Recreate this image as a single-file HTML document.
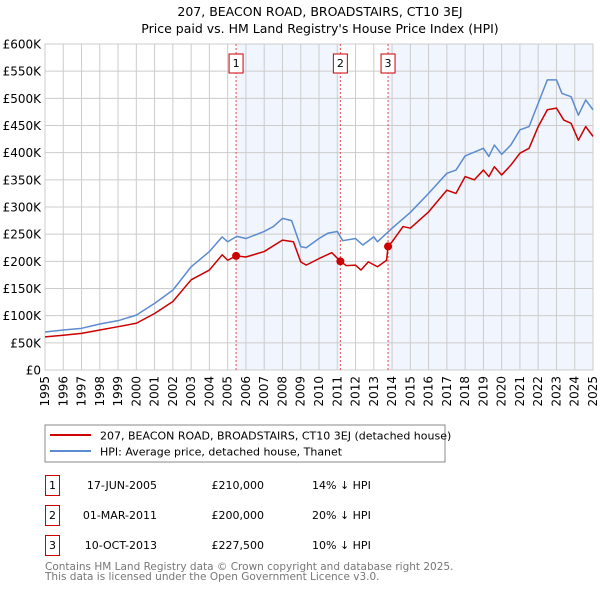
<!DOCTYPE html>
<html><head><meta charset="utf-8"><style>
body{margin:0;background:#fff;}
svg{display:block;font-family:"DejaVu Sans","Liberation Sans",sans-serif;}
</style></head><body>
<svg id="c" width="600" height="590" viewBox="0 0 600 590">
<text x="320" y="16" text-anchor="middle" font-size="12.5">207, BEACON ROAD, BROADSTAIRS, CT10 3EJ</text>
<text x="320" y="33" text-anchor="middle" font-size="12.5">Price paid vs. HM Land Registry's House Price Index (HPI)</text>
<g id="plot"></g>
<rect x="45" y="425" width="400" height="37" fill="#fff" stroke="#888"/>
<line x1="50" y1="435" x2="91" y2="435" stroke="#cc0000" stroke-width="2"/>
<text x="100" y="439.5" font-size="11">207, BEACON ROAD, BROADSTAIRS, CT10 3EJ (detached house)</text>
<line x1="50" y1="451" x2="91" y2="451" stroke="#5b8bd0" stroke-width="2"/>
<text x="100" y="455.5" font-size="11">HPI: Average price, detached house, Thanet</text>
<g font-size="11">
<rect x="45.5" y="475.5" width="14" height="20" fill="none" stroke="#cc0000"/>
<text x="52.5" y="489" text-anchor="middle">1</text>
<text x="157" y="489" text-anchor="end">17-JUN-2005</text>
<text x="264" y="489" text-anchor="end">£210,000</text>
<text x="312" y="489">14% ↓ HPI</text>
<rect x="45.5" y="505.5" width="14" height="20" fill="none" stroke="#cc0000"/>
<text x="52.5" y="519" text-anchor="middle">2</text>
<text x="157" y="519" text-anchor="end">01-MAR-2011</text>
<text x="264" y="519" text-anchor="end">£200,000</text>
<text x="312" y="519">20% ↓ HPI</text>
<rect x="45.5" y="535.5" width="14" height="20" fill="none" stroke="#cc0000"/>
<text x="52.5" y="549" text-anchor="middle">3</text>
<text x="157" y="549" text-anchor="end">10-OCT-2013</text>
<text x="264" y="549" text-anchor="end">£227,500</text>
<text x="312" y="549">10% ↓ HPI</text>
</g>
<text x="45" y="570" font-size="10.5" fill="#777">Contains HM Land Registry data © Crown copyright and database right 2025.</text>
<text x="45" y="580" font-size="10.5" fill="#777">This data is licensed under the Open Government Licence v3.0.</text>
</svg>
<script>
const yTicks=[0,50,100,150,200,250,300,350,400,450,500,550,600];
const years=[1995,1996,1997,1998,1999,2000,2001,2002,2003,2004,2005,2006,2007,2008,2009,2010,2011,2012,2013,2014,2015,2016,2017,2018,2019,2020,2021,2022,2023,2024,2025];
const hpiT=[1995,1996,1997,1998,1999,2000,2001,2002,2003,2004,2004.7,2005,2005.5,2006,2007,2007.5,2008,2008.5,2009,2009.3,2010,2010.5,2011,2011.3,2012,2012.4,2013,2013.2,2014,2015,2016,2017,2017.5,2018,2019,2019.3,2019.6,2020,2020.5,2021,2021.5,2022,2022.5,2023,2023.3,2023.8,2024.2,2024.6,2025];
const hpiV=[70,73.6,76.7,84.7,90.8,101,122.7,147,190,218,245,236,246,242,255,264,279,275,227,225,242,252,255,238,242,230,245,236,261,290,325,362,368,394,408,393,414,397,414,442,448,491,534,534,509,503,469,497,479];
const priceT=[1995,1996,1997,1998,1999,2000,2001,2002,2003,2004,2004.7,2005,2005.46,2006,2007,2008,2008.6,2009,2009.3,2010,2010.7,2011.17,2011.5,2012,2012.3,2012.7,2013.2,2013.7,2013.78,2014,2014.6,2015,2016,2017,2017.5,2018,2018.5,2019,2019.3,2019.6,2020,2020.5,2021,2021.5,2022,2022.5,2023,2023.4,2023.8,2024.2,2024.6,2025];
const priceV=[61,64,67.5,73.6,79.7,86,104,126,166,184,212,202,210,208,218,239,236,199,193,205,216,200,192,193,184,199,190,202,227.5,236,264,261,291,331,325,356,350,368,356,374,359,377,399,408,448,479,482,460,454,423,448,430];
const saleT=[2005.46,2011.17,2013.78];
const saleV=[210,200,227.5];
const saleLabels=["1","2","3"];

const X0=45,X1=593,Y0=370,Y1=44;
const xs=t=>X0+(t-1995)/30*(X1-X0);
const ys=v=>Y0-v/600*(Y0-Y1);
const NS="http://www.w3.org/2000/svg";
const g=document.getElementById('plot');
function mk(tag,attrs){const e=document.createElementNS(NS,tag);for(const k in attrs)e.setAttribute(k,attrs[k]);g.appendChild(e);return e;}

let e=mk('rect',{x:xs(saleT[0]),y:Y1,width:xs(saleT[1])-xs(saleT[0]),height:Y0-Y1,fill:'#eef3fc',opacity:0.8});


e=mk('rect',{x:xs(saleT[2]),y:Y1,width:X1-xs(saleT[2]),height:Y0-Y1,fill:'#eef3fc',opacity:0.8});



yTicks.forEach(v=>{
  let l=mk('line',{x1:X0,x2:X1,y1:ys(v),y2:ys(v),stroke:'#ccc','stroke-width':1});
  
  
  let t=mk('text',{x:X0-4,y:ys(v)+4.5,'text-anchor':'end','font-size':12});
  t.textContent=v===0?'£0':'£'+v+'K';
  
  
});
years.forEach(yr=>{
  let l=mk('line',{x1:xs(yr),x2:xs(yr),y1:Y1,y2:Y0,stroke:'#ccc','stroke-width':1});
  
  
  let t=mk('text',{x:0,y:0,'text-anchor':'end','font-size':12,transform:`translate(${xs(yr)+4},${Y0+6}) rotate(-90)`});
  t.textContent=yr;
  
  
});
e=mk('rect',{x:X0,y:Y1,width:X1-X0,height:Y0-Y1,fill:'none',stroke:'#ccc'});



saleT.forEach((t,i)=>{
  let l=mk('line',{x1:xs(t),x2:xs(t),y1:Y1,y2:Y0,stroke:'#e05050','stroke-dasharray':'2,2','stroke-width':1});
  
  
  let r=mk('rect',{x:xs(t)-7,y:54,width:14,height:19,fill:'#fff',stroke:'#cc0000'});
  
  
  let tx=mk('text',{x:xs(t),y:67,'text-anchor':'middle','font-size':11});
  tx.textContent=saleLabels[i];
  
  
});

let p=mk('polyline',{points:hpiT.map((t,i)=>xs(t)+','+ys(hpiV[i])).join(' '),fill:'none',stroke:'#5b8bd0','stroke-width':1.5,'stroke-linejoin':'round'});


p=mk('polyline',{points:priceT.map((t,i)=>xs(t)+','+ys(priceV[i])).join(' '),fill:'none',stroke:'#cc0000','stroke-width':1.5,'stroke-linejoin':'round'});


saleT.forEach((t,i)=>{
  let c=mk('circle',{cx:xs(t),cy:ys(saleV[i]),r:4,fill:'#cc0000'});
  
  
});
</script>
</body></html>
